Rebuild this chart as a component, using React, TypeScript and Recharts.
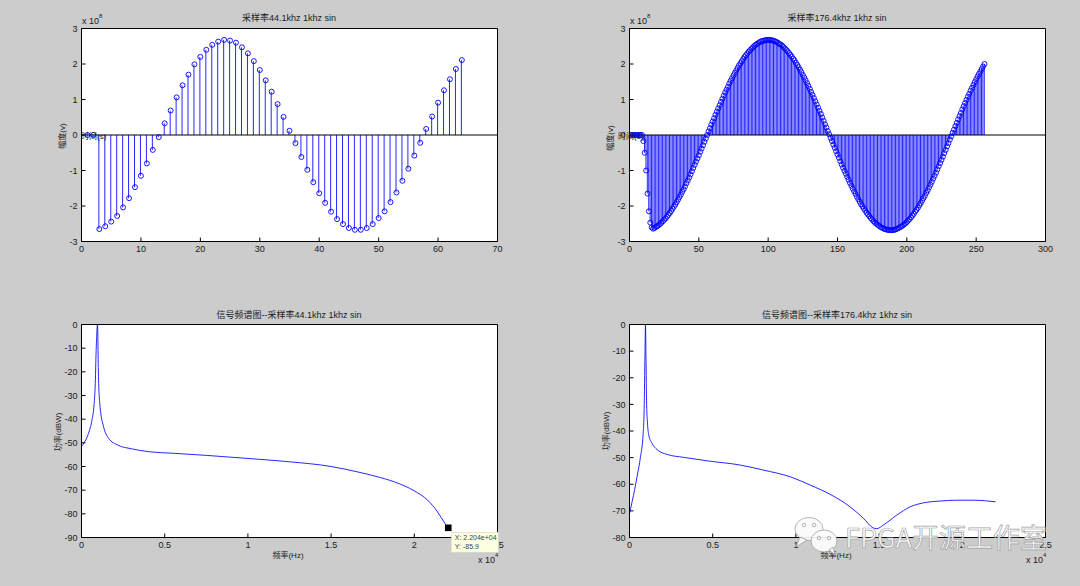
import React from 'react';
import {
  ComposedChart,
  Bar,
  Line,
  XAxis,
  YAxis,
  ReferenceLine,
  ReferenceDot,
  CartesianGrid,
} from 'recharts';

const PAGE_W = 1080;
const PAGE_H = 586;
const FONT = '"Liberation Sans", Arial, "Noto Sans CJK SC", sans-serif';
const CJK = '"Noto Sans CJK SC", "Liberation Sans", sans-serif';
const BLUE = '#0000ff';
const TXT = '#1a1a1a';

// ---------- data: time-domain stems, 44.1 kHz (samples 1..64, x 1e8) ----------
const amp44 = [
  0, 0, -2.65, -2.57, -2.44, -2.28, -2.04, -1.78, -1.47, -1.15,
  -0.8, -0.42, -0.06, 0.33, 0.69, 1.06, 1.4, 1.7, 1.99, 2.2,
  2.4, 2.54, 2.63, 2.68, 2.66, 2.6, 2.47, 2.3, 2.08, 1.83,
  1.54, 1.22, 0.87, 0.51, 0.12, -0.23, -0.62, -0.98, -1.33, -1.64,
  -1.91, -2.16, -2.37, -2.51, -2.62, -2.67, -2.67, -2.62, -2.51, -2.34,
  -2.15, -1.89, -1.62, -1.29, -0.95, -0.58, -0.22, 0.17, 0.52, 0.91,
  1.26, 1.57, 1.86, 2.11,
];

// ---------- data: time-domain stems, 176.4 kHz (samples 1..256, x 1e8) ----------
const amp176 = [
  0, 0, 0, 0, 0, 0, 0, 0, 0,
  -0.17, -0.5, -1.0, -1.65, -2.15, -2.47, -2.6,
  -2.64, -2.62, -2.59, -2.57, -2.54, -2.51, -2.47, -2.43, -2.39, -2.35,
  -2.3, -2.25, -2.2, -2.14, -2.08, -2.02, -1.96, -1.89, -1.82, -1.75,
  -1.68, -1.6, -1.53, -1.45, -1.36, -1.28, -1.2, -1.11, -1.02, -0.93,
  -0.84, -0.75, -0.66, -0.57, -0.47, -0.38, -0.29, -0.19, -0.1,
  0.0,
  0.1, 0.19, 0.29, 0.38, 0.47, 0.57, 0.66, 0.75, 0.84, 0.93,
  1.02, 1.11, 1.2, 1.28, 1.36, 1.45, 1.53, 1.6, 1.68, 1.75,
  1.82, 1.89, 1.96, 2.02, 2.08, 2.14, 2.2, 2.25, 2.3, 2.35,
  2.39, 2.43, 2.47, 2.51, 2.54, 2.57, 2.59, 2.62, 2.64, 2.65,
  2.66, 2.67, 2.68, 2.68, 2.68, 2.67, 2.67, 2.65, 2.64, 2.62,
  2.6, 2.57, 2.55, 2.52, 2.48, 2.44, 2.4, 2.36, 2.31, 2.26,
  2.21, 2.15, 2.1, 2.03, 1.97, 1.91, 1.84, 1.77, 1.69, 1.62,
  1.54, 1.46, 1.38, 1.3, 1.21, 1.13, 1.04, 0.95, 0.86, 0.77,
  0.68, 0.59, 0.49, 0.4, 0.3, 0.21, 0.11, 0.02,
  -0.08, -0.17, -0.27, -0.36, -0.46, -0.55, -0.64, -0.74, -0.83, -0.92,
  -1.01, -1.09, -1.18, -1.26, -1.35, -1.43, -1.51, -1.59, -1.66, -1.74,
  -1.81, -1.88, -1.95, -2.01, -2.07, -2.13, -2.19, -2.24, -2.29, -2.34,
  -2.38, -2.43, -2.47, -2.5, -2.53, -2.56, -2.59, -2.61, -2.63, -2.65,
  -2.66, -2.67, -2.68, -2.68, -2.68, -2.68, -2.67, -2.66, -2.64, -2.62,
  -2.6, -2.58, -2.55, -2.52, -2.49, -2.45, -2.41, -2.37, -2.32, -2.27,
  -2.22, -2.16, -2.11, -2.05, -1.98, -1.92, -1.85, -1.78, -1.71, -1.63,
  -1.56, -1.48, -1.4, -1.32, -1.23, -1.15, -1.06, -0.97, -0.88, -0.79,
  -0.7, -0.61, -0.51, -0.42, -0.32, -0.23, -0.13, -0.04,
  0.06, 0.15, 0.25, 0.34, 0.44, 0.53, 0.62, 0.72, 0.81, 0.9,
  0.99, 1.08, 1.16, 1.25, 1.33, 1.41, 1.49, 1.57, 1.65, 1.72,
  1.79, 1.86, 1.93, 2.0,
];

// ---------- data: spectra ----------
const freq44 = [
  0, 200, 420, 625, 760, 820, 880, 963, 1020, 1120, 1320, 1620, 2200, 3000,
  4100, 5500, 7500, 10000, 12500, 15000, 16600, 17600, 18800, 20000, 20800,
  21400, 21850, 22040,
];
const db44 = [
  -51.5, -49.5, -46, -40.5, -33.5, -26.5, -11, 0, -22, -35, -43, -48, -51,
  -52.5, -53.8, -54.4, -55.3, -56.6, -58, -60, -62.3, -64, -66.5, -70.3,
  -74.2, -79.2, -84.1, -85.9,
];
const freq176 = [
  0, 160, 460, 660, 820, 880, 930, 960, 990, 1030, 1080, 1160, 1360, 1660,
  2260, 3260, 4660, 6660, 8060, 9660, 10860, 12060, 13260, 14060, 14620,
  14860, 15260, 16060, 16860, 17660, 18660, 19660, 20660, 22000,
];
const db176 = [
  -71, -66.5, -57, -49.7, -41, -32, -11, 0, -12, -30, -37, -41.6, -44.7, -47,
  -48.8, -49.9, -51.2, -52.8, -54.7, -57.2, -60.3, -63.8, -68.5, -72.8,
  -76.3, -76.7, -75.3, -71.6, -68.5, -67, -66.3, -66, -66, -66.6,
];

// data tip
const tipFreq = 22040;
const tipDb = -85.9;

// ---------- ticks ----------
const timeTicks44 = [0, 10, 20, 30, 40, 50, 60, 70];
const timeTicks176 = [0, 50, 100, 150, 200, 250, 300];
const ampTicks = [-3, -2, -1, 0, 1, 2, 3];
const freqTicks = [0, 5000, 10000, 15000, 20000, 25000];
const dbTicks44 = [-90, -80, -70, -60, -50, -40, -30, -20, -10, 0];
const dbTicks176 = [-80, -70, -60, -50, -40, -30, -20, -10, 0];

// ---------- texts ----------
const title44 = '采样率44.1khz 1khz sin';
const title176 = '采样率176.4khz 1khz sin';
const specTitle44 = '信号频谱图--采样率44.1khz 1khz sin';
const specTitle176 = '信号频谱图--采样率176.4khz 1khz sin';
const ampLabel = '幅度(v)';
const timeLabel = '时间(s)';
const powLabel = '功率(dBW)';
const freqLabel = '频率(Hz)';
const watermark = 'FPGA开源工作室';

// ---------- built tables ----------
const stem44 = amp44.map((v, i) => ({ n: i + 1, v }));
const stem176 = amp176.map((v, i) => ({ n: i + 1, v }));
const spec44 = freq44.map((f, i) => ({ f, db: db44[i] }));
const spec176 = freq176.map((f, i) => ({ f, db: db176[i] }));

// ---------- layout ----------
type Box = { l: number; r: number; t: number; b: number };
const BOX_TL: Box = { l: 81.5, r: 497.5, t: 28.5, b: 241.5 };
const BOX_TR: Box = { l: 629.5, r: 1045.5, t: 28.5, b: 241.5 };
const BOX_BL: Box = { l: 81.5, r: 497.5, t: 324.5, b: 537.5 };
const BOX_BR: Box = { l: 629.5, r: 1045.5, t: 324.5, b: 537.5 };

const AX_W = 40;
const AX_H = 20;
const EDGE = 1;

function marginFor(b: Box) {
  return {
    left: b.l - AX_W,
    right: PAGE_W - b.r - EDGE,
    top: b.t - EDGE,
    bottom: PAGE_H - b.b - AX_H,
  };
}

const TICK = { fontSize: 9, fill: TXT, fontFamily: FONT };
const LINE = { stroke: '#000', strokeWidth: 1 };

function frameAxes(
  xKey: string,
  xDomain: [number, number],
  xTicks: number[],
  yDomain: [number, number],
  yTicks: number[],
  xFmt?: (v: number) => string
) {
  return [
    <XAxis
      key="xb"
      xAxisId={0}
      dataKey={xKey}
      type="number"
      domain={xDomain}
      ticks={xTicks}
      allowDataOverflow
      interval={0}
      height={AX_H}
      tickSize={-4}
      tickMargin={8}
      tick={TICK}
      tickLine={LINE}
      axisLine={LINE}
      tickFormatter={xFmt}
    />,
    <XAxis
      key="xt"
      xAxisId="t"
      orientation="top"
      dataKey={xKey}
      type="number"
      domain={xDomain}
      ticks={xTicks}
      allowDataOverflow
      interval={0}
      height={EDGE}
      tickSize={-4}
      tick={false}
      tickLine={LINE}
      axisLine={LINE}
    />,
    <YAxis
      key="yl"
      yAxisId={0}
      type="number"
      domain={yDomain}
      ticks={yTicks}
      allowDataOverflow
      interval={0}
      width={AX_W}
      tickSize={-4}
      tickMargin={8}
      tick={TICK}
      tickLine={LINE}
      axisLine={LINE}
    />,
    <YAxis
      key="yr"
      yAxisId="r"
      orientation="right"
      type="number"
      domain={yDomain}
      ticks={yTicks}
      allowDataOverflow
      interval={0}
      width={EDGE}
      tickSize={-4}
      tick={false}
      tickLine={LINE}
      axisLine={LINE}
    />,
  ];
}

const layer: React.CSSProperties = { position: 'absolute', left: 0, top: 0 };

function StemDot(p: any) {
  if (p.cx == null || p.cy == null) return <g key={p.index} />;
  return (
    <circle
      key={p.index}
      cx={p.cx}
      cy={p.cy}
      r={2.5}
      fill="none"
      stroke={BLUE}
      strokeWidth={0.9}
    />
  );
}

function StemChart(props: { box: Box; data: any[]; xMax: number; xTicks: number[] }) {
  const { box, data, xMax, xTicks } = props;
  return (
    <div style={layer}>
      <ComposedChart width={PAGE_W} height={PAGE_H} data={data} margin={marginFor(box)}>
        <CartesianGrid horizontal={false} vertical={false} fill="#ffffff" stroke="none" />
        {frameAxes('n', [0, xMax], xTicks, [-3, 3], ampTicks)}
        <Bar dataKey="v" barSize={1} fill={BLUE} fillOpacity={0.85} isAnimationActive={false} />
        <ReferenceLine y={0} stroke="#000" strokeWidth={1} />
        <Line
          dataKey="v"
          stroke="none"
          dot={StemDot}
          activeDot={false}
          isAnimationActive={false}
        />
      </ComposedChart>
    </div>
  );
}

const freqFmt = (v: number) => String(v / 10000);

function DataTip(p: any) {
  const cx = p.cx;
  const cy = p.cy;
  if (cx == null || cy == null) return <g />;
  const xs = 'X: ' + tipFreq.toExponential(3).replace(/e\+(\d)$/, 'e+0$1');
  const ys = 'Y: ' + String(tipDb);
  return (
    <g>
      <rect x={cx + 3} y={cy + 4.5} width={47} height={20} fill="#ffffe1" stroke="#d6d6c4" strokeWidth={0.6} />
      <rect x={cx - 3.3} y={cy - 3.3} width={6.6} height={6.6} fill="#000" />
      <text x={cx + 6.5} y={cy + 12.5} fontSize={7} fill="#444" fontFamily={FONT}>{xs}</text>
      <text x={cx + 6.5} y={cy + 21} fontSize={7} fill="#444" fontFamily={FONT}>{ys}</text>
    </g>
  );
}

function SpecChart(props: {
  box: Box;
  data: any[];
  yMin: number;
  yTicks: number[];
}) {
  const { box, data, yMin, yTicks } = props;
  return (
    <div style={layer}>
      <ComposedChart width={PAGE_W} height={PAGE_H} data={data} margin={marginFor(box)}>
        <CartesianGrid horizontal={false} vertical={false} fill="#ffffff" stroke="none" />
        {frameAxes('f', [0, 25000], freqTicks, [yMin, 0], yTicks, freqFmt)}
        <Line
          dataKey="db"
          type="monotone"
          stroke={BLUE}
          strokeWidth={1}
          strokeOpacity={0.85}
          dot={false}
          activeDot={false}
          isAnimationActive={false}
        />
      </ComposedChart>
    </div>
  );
}

// the data tip sits on its own layer so it covers the tick labels, like MATLAB's datatip
function TipLayer(props: { box: Box; data: any[]; yMin: number }) {
  const { box, data, yMin } = props;
  return (
    <div style={layer}>
      <ComposedChart
        width={PAGE_W}
        height={PAGE_H}
        data={data}
        margin={{ left: box.l, right: PAGE_W - box.r, top: box.t, bottom: PAGE_H - box.b }}
      >
        <XAxis dataKey="f" type="number" domain={[0, 25000]} allowDataOverflow hide />
        <YAxis type="number" domain={[yMin, 0]} allowDataOverflow hide />
        <ReferenceDot x={tipFreq} y={tipDb} r={3} shape={DataTip} ifOverflow="visible" />
      </ComposedChart>
    </div>
  );
}

function Exp(props: { x: number; y: number; p: string }) {
  return (
    <g fontFamily={FONT} fill={TXT}>
      <text x={props.x} y={props.y} fontSize={9}>x 10</text>
      <text x={props.x + 17} y={props.y - 6} fontSize={6}>{props.p}</text>
    </g>
  );
}

function VLabel(props: { x: number; y: number; s: string }) {
  return (
    <text
      transform={`translate(${props.x},${props.y}) rotate(-90)`}
      textAnchor="middle"
      dominantBaseline="central"
      fontSize={8}
      fill={TXT}
      fontFamily={FONT}
    >
      {props.s}
    </text>
  );
}

function Overlay() {
  return (
    <svg width={PAGE_W} height={PAGE_H} style={{ ...layer, pointerEvents: 'none' }}>
      <g fontFamily={FONT} fill={TXT} fontSize={9} textAnchor="middle">
        <text x={289} y={21}>{title44}</text>
        <text x={837} y={21}>{title176}</text>
        <text x={289} y={318}>{specTitle44}</text>
        <text x={837} y={318}>{specTitle176}</text>
        <text x={288} y={558} fontSize={8}>{freqLabel}</text>
        <text x={836} y={558} fontSize={8}>{freqLabel}</text>
      </g>
      <VLabel x={62} y={136} s={ampLabel} />
      <VLabel x={610} y={138} s={ampLabel} />
      <VLabel x={58} y={432} s={powLabel} />
      <VLabel x={606} y={431} s={powLabel} />
      <g fontFamily={FONT} fill={TXT} fontSize={8}>
        <text x={81} y={139}>{timeLabel}</text>
        <text x={618} y={139}>{timeLabel}</text>
      </g>
      <Exp x={82} y={24} p="8" />
      <Exp x={630} y={24} p="8" />
      <Exp x={478} y={563} p="4" />
      <Exp x={1026} y={563} p="4" />

      {/* watermark */}
      <g opacity={0.92}>
        <ellipse cx={809} cy={529} rx={14} ry={11.5} fill="#fbfbfb" stroke="#9c9c9c" strokeWidth={0.8} />
        <path d="M800,537 L796,547 L807,540 Z" fill="#fbfbfb" stroke="#9c9c9c" strokeWidth={0.8} />
        <circle cx={804} cy={525} r={1.8} fill="none" stroke="#9c9c9c" strokeWidth={0.8} />
        <circle cx={814} cy={525} r={1.8} fill="none" stroke="#9c9c9c" strokeWidth={0.8} />
        <ellipse cx={824} cy={541} rx={13} ry={11} fill="#fdfdfd" stroke="#9c9c9c" strokeWidth={0.8} />
        <path d="M829,550 L835,555 L833,547 Z" fill="#fdfdfd" stroke="#9c9c9c" strokeWidth={0.8} />
        <circle cx={819} cy={538} r={1.8} fill="none" stroke="#9c9c9c" strokeWidth={0.8} />
        <circle cx={829} cy={538} r={1.8} fill="none" stroke="#9c9c9c" strokeWidth={0.8} />
        <text
          x={845}
          y={548}
          fontSize={27}
          fontFamily={CJK}
          fill="#ffffff"
          stroke="#9a9a9a"
          strokeWidth={0.7}
        >
          {watermark}
        </text>
      </g>
    </svg>
  );
}

export default function App() {
  return (
    <div
      style={{
        position: 'absolute',
        left: 0,
        top: 0,
        width: PAGE_W,
        height: PAGE_H,
        background: '#cccccc',
        overflow: 'hidden',
        fontFamily: FONT,
      }}
    >
      <StemChart box={BOX_TL} data={stem44} xMax={70} xTicks={timeTicks44} />
      <StemChart box={BOX_TR} data={stem176} xMax={300} xTicks={timeTicks176} />
      <SpecChart box={BOX_BL} data={spec44} yMin={-90} yTicks={dbTicks44} />
      <SpecChart box={BOX_BR} data={spec176} yMin={-80} yTicks={dbTicks176} />
      <TipLayer box={BOX_BL} data={spec44} yMin={-90} />
      <Overlay />
    </div>
  );
}
